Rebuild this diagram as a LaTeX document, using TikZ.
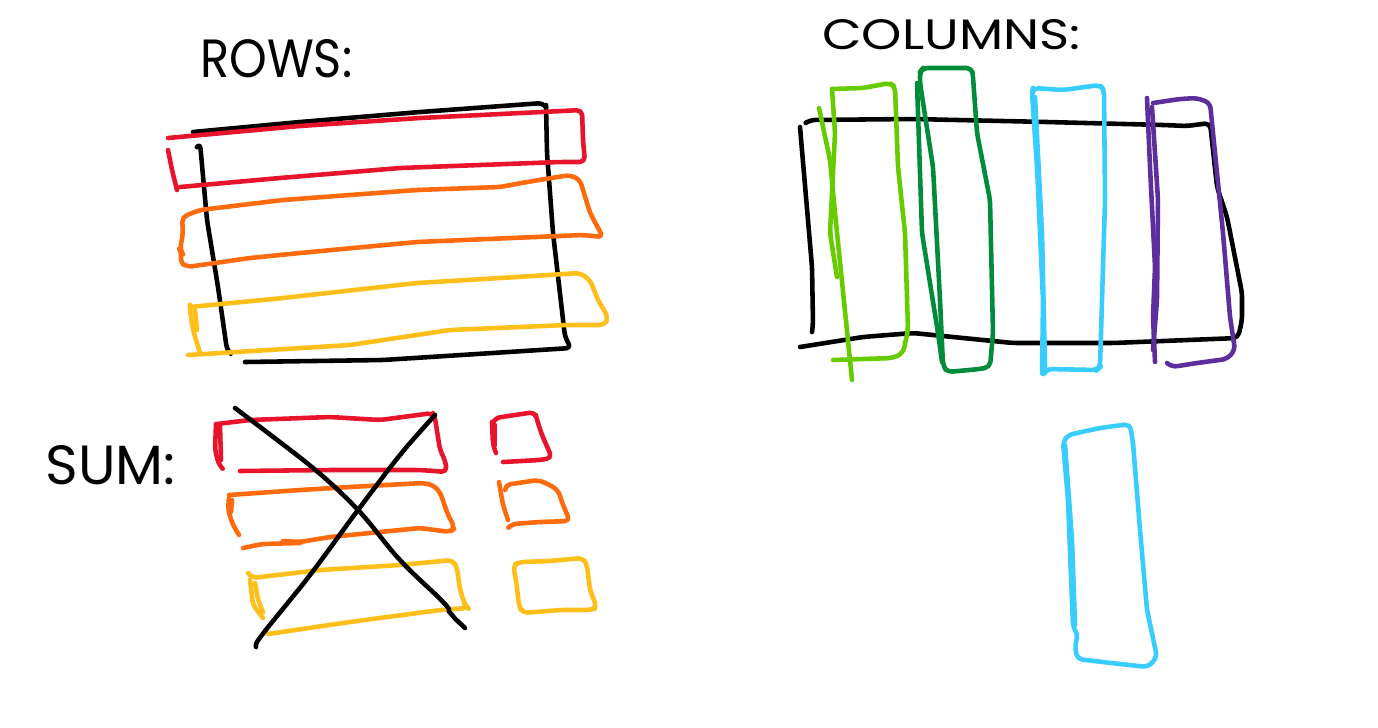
\documentclass[tikz,border=0pt]{standalone}
\usepackage{fontspec}
\setmainfont{Poppins}
\definecolor{cred}{HTML}{E8142B}
\definecolor{corange}{HTML}{FF6A0D}
\definecolor{cyellow}{HTML}{FFBF1A}
\definecolor{clgreen}{HTML}{66CC00}
\definecolor{cdgreen}{HTML}{008C3A}
\definecolor{ccyan}{HTML}{38CCFF}
\definecolor{cpurple}{HTML}{5C2E9E}
\tikzset{
  pen/.style={line width=2.6pt, line cap=round, line join=round, rounded corners=3pt},
  label/.style={anchor=south west, inner sep=0pt}
}
\begin{document}
\begin{tikzpicture}[x=0.02cm,y=-0.02cm]
\useasboundingbox[fill=white] (0,0) rectangle (1378,727);

% ---------- labels ----------
\node[label] (rows) at (200,78) {\resizebox{3.04cm}{0.76cm}{ROWS:}};
\node[label] (cols) at (822,50) {\resizebox{5.16cm}{0.6cm}{COLUMNS:}};
\node[label] (sum) at (45,485) {\resizebox{2.6cm}{0.78cm}{SUM:}};

% ---------- ROWS: table ----------
\draw[pen,black] (193,132) -- (300,122) -- (420,112) -- (543,103) -- (546,107);
\draw[pen,black] (546,105) -- (547,153) -- (553,233) -- (565,337) -- (571,348)
  -- (383,360) -- (245,362);
\draw[pen,black] (197,147) -- (200,143) -- (207,220) -- (218,287) -- (227,350) -- (229,352);

% red row
\draw[pen,cred] (168,138) -- (300,126) -- (420,118) -- (582,110) -- (583,140) -- (585,162)
  -- (560,162) -- (400,168) -- (280,178) -- (180,187);
\draw[pen,cred] (168,150) -- (172,170) -- (177,190);
% orange row
\draw[pen,corange] (182,217) -- (200,210) -- (283,200) -- (417,190) -- (500,187) -- (527,182)
  -- (570,175) -- (580,180) -- (590,213) -- (603,237) -- (583,235) -- (417,242)
  -- (300,253) -- (250,258) -- (187,267) -- (180,262) -- (182,253) -- (180,250)
  -- (183,233) -- cycle;
% yellow row
\draw[pen,cyellow] (190,307) -- (283,298) -- (417,283) -- (517,277) -- (580,273) -- (590,280)
  -- (598,300) -- (608,317) -- (605,325) -- (567,325) -- (450,330) -- (350,345) -- (188,355);
\draw[pen,cyellow] (200,353) -- (193,330) -- (190,310) -- (190,307);
\draw[pen,cyellow] (195,310) -- (197,330);

% ---------- COLUMNS: table ----------
\draw[pen,black] (807,122) -- (810,120) -- (913,119) -- (1047,122) -- (1163,125) -- (1187,126)
  -- (1210,123) -- (1213,150) -- (1217,187) -- (1227,217) -- (1242,293) -- (1242,320)
  -- (1238,338) -- (1113,343) -- (1013,343) -- (913,333) -- (863,337) -- (800,347);
\draw[pen,black] (800,127) -- (812,267) -- (813,323) -- (812,332);

% light green
\draw[pen,clgreen] (832,89) -- (863,88) -- (890,83) -- (895,87) -- (898,167) -- (905,233)
  -- (908,330) -- (903,353) -- (893,358) -- (833,360);
\draw[pen,clgreen] (832,89) -- (835,133) -- (830,233) -- (837,277);
\draw[pen,clgreen] (819,108) -- (830,160) -- (835,213) -- (852,380);
% dark green
\draw[pen,cdgreen] (920,72) -- (923,68) -- (972,68) -- (973,77) -- (977,133) -- (990,200)
  -- (993,333) -- (990,367) -- (980,369) -- (947,372) -- (943,365) -- (940,300)
  -- (933,167) -- (920,83) -- cycle;
\draw[pen,cdgreen] (917,83) -- (922,233) -- (938,333) -- (942,362);
% cyan
\draw[pen,ccyan] (1033,88) -- (1063,90) -- (1100,85) -- (1104,90) -- (1105,200) -- (1100,367)
  -- (1097,370) -- (1047,369) -- (1042,377) -- (1043,300) -- (1037,167) -- (1032,93) -- cycle;
\draw[pen,ccyan] (1035,97) -- (1042,233) -- (1045,367);
% purple
\draw[pen,cpurple] (1147,98) -- (1150,167) -- (1155,267) -- (1153,317) -- (1155,362);
\draw[pen,cpurple] (1152,107) -- (1158,200) -- (1157,300) -- (1153,350);
\draw[pen,cpurple] (1153,103) -- (1180,99) -- (1197,98) -- (1210,103) -- (1213,133)
  -- (1223,233) -- (1230,317) -- (1235,350) -- (1227,359) -- (1197,363) -- (1172,367) -- (1167,363);

% lone cyan column
\draw[pen,ccyan] (1068,435) -- (1100,428) -- (1130,424) -- (1133,443) -- (1140,530)
  -- (1147,610) -- (1157,657) -- (1148,667) -- (1120,664) -- (1077,659) -- (1075,645)
  -- (1078,635) -- (1073,627) -- (1068,500) -- (1063,442) -- cycle;
\draw[pen,ccyan] (1065,445) -- (1072,540) -- (1075,625);

% ---------- SUM: ----------
% red bar
\draw[pen,cred] (217,424) -- (250,420) -- (330,417) -- (380,420) -- (433,413) -- (435,418)
  -- (440,450) -- (445,460) -- (447,472) -- (420,470) -- (330,470) -- (240,471);
\draw[pen,cred] (216,424) -- (215,450) -- (219,465) -- (222,468);
\draw[pen,cred] (220,426) -- (221,460);
% orange bar
\draw[pen,corange] (229,495) -- (300,490) -- (350,487) -- (423,483) -- (433,485) -- (440,492)
  -- (448,515) -- (455,528) -- (450,532) -- (420,528) -- (380,532) -- (330,537)
  -- (300,542) -- (283,541);
\draw[pen,corange] (243,548) -- (262,544) -- (300,543);
\draw[pen,corange] (229,498) -- (228,510) -- (233,525) -- (239,535);
\draw[pen,corange] (232,500) -- (231,512);
% yellow bar
\draw[pen,cyellow] (248,573) -- (252,578) -- (320,570) -- (400,565) -- (453,560) -- (457,568)
  -- (460,590) -- (465,605) -- (468,608) -- (440,610) -- (350,622) -- (268,634);
\draw[pen,cyellow] (250,580) -- (253,605) -- (263,618);
\draw[pen,cyellow] (255,583) -- (258,600) -- (263,612);
% cross
\draw[pen,black] plot[smooth] coordinates {(235,408) (313,468) (358,510) (400,560) (443,602) (452,615) (465,628)};
\draw[pen,black] plot[smooth] coordinates {(435,415) (400,455) (358,510) (310,575) (262,635) (256,647)};

% small squares
\draw[pen,cred] (492,425) -- (495,418) -- (535,412) -- (537,420) -- (542,435) -- (552,458)
  -- (540,460) -- (503,462);
\draw[pen,cred] (492,422) -- (493,445) -- (496,453);
\draw[pen,cred] (495,425) -- (495,445);
\draw[pen,corange] (505,490) -- (505,485) -- (538,480) -- (548,484) -- (558,490) -- (563,505)
  -- (570,521) -- (540,522) -- (512,524) -- (510,526);
\draw[pen,corange] (499,482) -- (503,505) -- (508,520);
\draw[pen,cyellow] (513,565) -- (520,562) -- (550,561) -- (583,558) -- (587,565) -- (590,590)
  -- (597,608) -- (590,610) -- (560,610) -- (522,613) -- (519,605) -- (516,580) -- cycle;
\end{tikzpicture}
\end{document}
